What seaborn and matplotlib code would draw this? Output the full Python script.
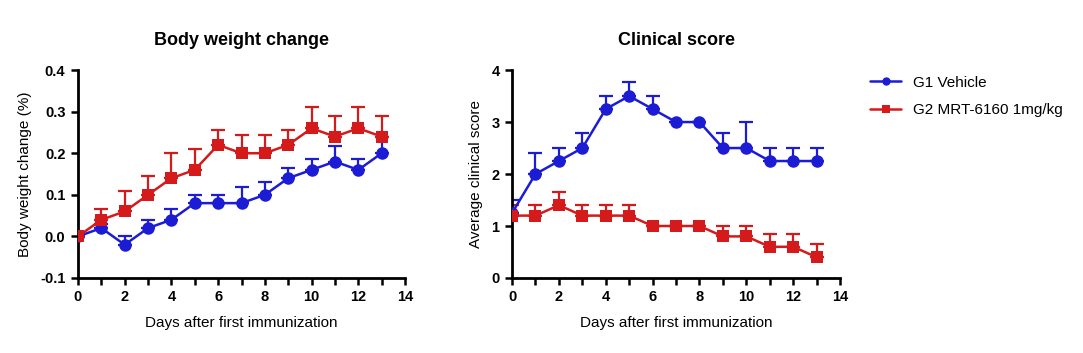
import pandas as pd
import seaborn as sns
import matplotlib.pyplot as plt
import numpy as np

sns.set_style("ticks")
plt.rcParams['font.family'] = ['Liberation Sans', 'DejaVu Sans']
plt.rcParams['text.color'] = 'black'
plt.rcParams['axes.labelcolor'] = 'black'
plt.rcParams['axes.edgecolor'] = 'black'
plt.rcParams['xtick.color'] = 'black'
plt.rcParams['ytick.color'] = 'black'

days = list(range(14))
groups = ["G1 Vehicle", "G2 MRT-6160 1mg/kg"]

# 体重变化
bw_g1 = [0.0, 0.02, -0.02, 0.02, 0.04, 0.08, 0.08, 0.08, 0.10, 0.14, 0.16, 0.18, 0.16, 0.20]
bw_g1_err = [0.0, 0.01, 0.02, 0.02, 0.025, 0.02, 0.02, 0.038, 0.032, 0.025, 0.025, 0.038, 0.025, 0.04]
bw_g2 = [0.0, 0.04, 0.06, 0.10, 0.14, 0.16, 0.22, 0.20, 0.20, 0.22, 0.26, 0.24, 0.26, 0.24]
bw_g2_err = [0.0, 0.025, 0.05, 0.045, 0.06, 0.05, 0.037, 0.045, 0.045, 0.037, 0.05, 0.05, 0.05, 0.05]

# 临床评分
cs_g1 = [1.25, 2.0, 2.25, 2.5, 3.25, 3.5, 3.25, 3.0, 3.0, 2.5, 2.5, 2.25, 2.25, 2.25]
cs_g1_err = [0.25, 0.4, 0.25, 0.28, 0.25, 0.28, 0.25, 0.0, 0.0, 0.28, 0.5, 0.25, 0.25, 0.25]
cs_g2 = [1.2, 1.2, 1.4, 1.2, 1.2, 1.2, 1.0, 1.0, 1.0, 0.8, 0.8, 0.6, 0.6, 0.4]
cs_g2_err = [0.2, 0.2, 0.25, 0.2, 0.2, 0.2, 0.0, 0.0, 0.0, 0.2, 0.2, 0.25, 0.25, 0.25]

colors = {"G1 Vehicle": "#1c1cd4", "G2 MRT-6160 1mg/kg": "#d41a1a"}
markers = {"G1 Vehicle": "o", "G2 MRT-6160 1mg/kg": "s"}


def make_df(v1, e1, v2, e2):
    return pd.DataFrame({
        "Day": days * 2,
        "Value": v1 + v2,
        "Err": e1 + e2,
        "Group": [groups[0]] * len(days) + [groups[1]] * len(days),
    })


fig = plt.figure(figsize=(10.83, 3.53), dpi=100)
ax1 = fig.add_axes([0.072, 0.2125, 0.302, 0.589])
ax2 = fig.add_axes([0.4728, 0.2125, 0.3029, 0.589])

panels = [
    (ax1, make_df(bw_g1, bw_g1_err, bw_g2, bw_g2_err), "Body weight change",
     "Body weight change (%)", (-0.1, 0.4), np.arange(-0.1, 0.41, 0.1), "{:.1f}"),
    (ax2, make_df(cs_g1, cs_g1_err, cs_g2, cs_g2_err), "Clinical score",
     "Average clinical score", (0, 4), np.arange(0, 5, 1), "{:.0f}"),
]

for ax, df, title, ylabel, ylim, yticks, fmt in panels:
    # 只画向上的误差线
    for g in groups:
        sub = df[df["Group"] == g]
        ax.errorbar(sub["Day"], sub["Value"],
                    yerr=[np.zeros(len(sub)), sub["Err"]],
                    fmt="none", ecolor=colors[g], elinewidth=1.6,
                    capsize=5, capthick=1.6, zorder=2)
    sns.lineplot(data=df, x="Day", y="Value", hue="Group", style="Group",
                 palette=colors, markers=markers, dashes=False,
                 markersize=9, markeredgewidth=0, linewidth=1.8,
                 ax=ax, legend=(ax is ax2), zorder=3)
    ax.set_xlim(0, 14)
    ax.set_ylim(*ylim)
    ax.set_xticks(range(0, 15, 2))
    ax.set_xticks(range(1, 14, 2), minor=True)
    ax.set_yticks(yticks)
    ax.set_yticklabels([fmt.format(t) for t in yticks])
    ax.set_title(title, fontsize=13, fontweight="bold", pad=18)
    ax.set_xlabel("Days after first immunization", fontsize=11, labelpad=8)
    ax.set_ylabel(ylabel, fontsize=11, labelpad=6)
    ax.tick_params(axis="both", which="both", width=1.8, length=5, labelsize=10.5,
                   direction="out", pad=4, color="black")
    for lbl in ax.get_xticklabels() + ax.get_yticklabels():
        lbl.set_fontweight("bold")
    for s in ["left", "bottom"]:
        ax.spines[s].set_linewidth(2)
    sns.despine(ax=ax)

leg = ax2.legend(loc="upper left", bbox_to_anchor=(1.05, 1.04), frameon=False,
                 fontsize=11, handlelength=2, labelspacing=0.9)
for h in leg.legend_handles:
    h.set_markersize(6)

fig.savefig("out.png", dpi=100, facecolor="white")
